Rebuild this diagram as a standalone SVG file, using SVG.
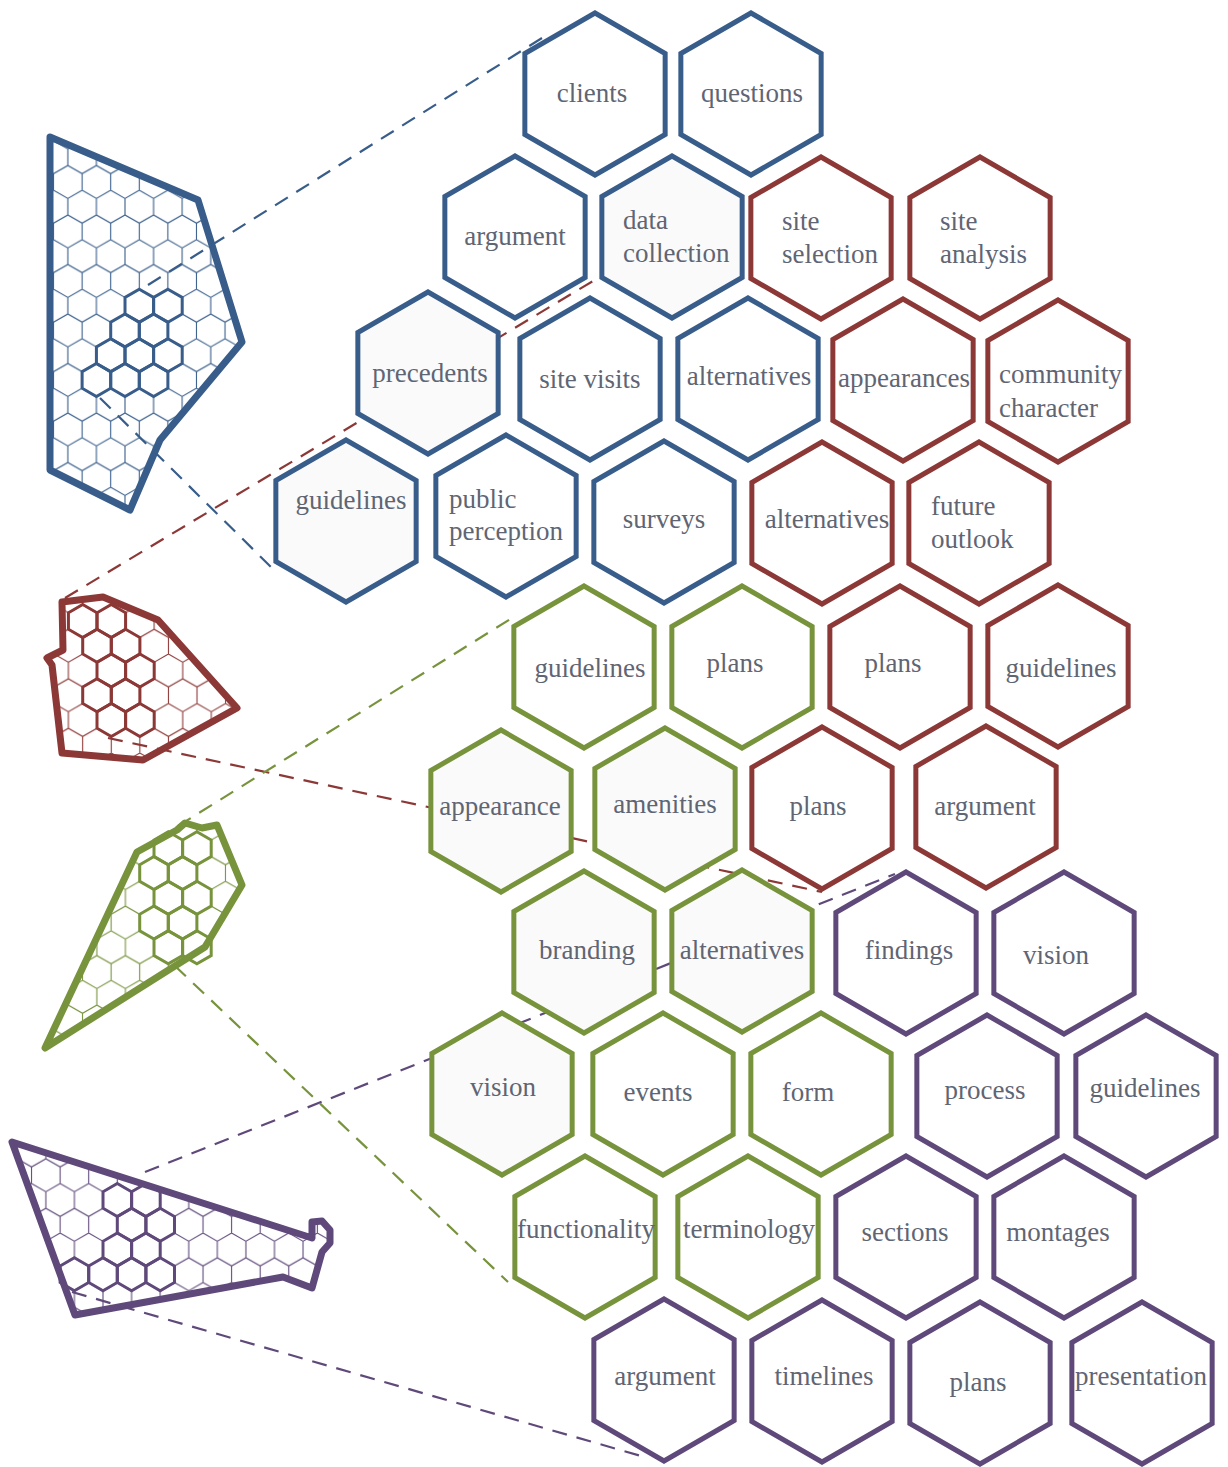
<svg xmlns="http://www.w3.org/2000/svg" xmlns:xlink="http://www.w3.org/1999/xlink" width="1228" height="1467" viewBox="0 0 1228 1467">
<style>
.hx{stroke-width:5;stroke-linejoin:miter;fill:#fff}
.fg{fill:#fafafa}
.b{stroke:#385d8a}.r{stroke:#8c3836}.g{stroke:#77933c}.p{stroke:#5f497a}
text{font-family:"Liberation Serif",serif;font-size:27px;fill:#5f6573}
.c{text-anchor:middle}
.dash{fill:none;stroke-width:2.2;stroke-dasharray:15 10}
.out{fill:none;stroke-width:7;stroke-linejoin:round}
.mh{fill:none;stroke-width:3}
.grid{fill:none;stroke-width:1.1}
</style>
<defs>
<path id="hex" d="M0,-81L70.15,-40.5L70.15,40.5L0,81L-70.15,40.5L-70.15,-40.5Z"/>
<path id="mh" d="M0,-16.5L14.29,-8.25L14.29,8.25L0,16.5L-14.29,8.25L-14.29,-8.25Z"/>
<pattern id="pb" patternUnits="userSpaceOnUse" x="125" y="289.2" width="28.58" height="49.5"><path class="grid b" d="M0,8.25L14.29,0L28.58,8.25M0,8.25V24.75L14.29,33L28.58,24.75V8.25M14.29,33V49.5"/></pattern>
<pattern id="pr" patternUnits="userSpaceOnUse" x="68.4" y="604.5" width="28.58" height="49.5"><path class="grid r" d="M0,8.25L14.29,0L28.58,8.25M0,8.25V24.75L14.29,33L28.58,24.75V8.25M14.29,33V49.5"/></pattern>
<pattern id="pg" patternUnits="userSpaceOnUse" x="154" y="831.8" width="28.58" height="49.5"><path class="grid g" d="M0,8.25L14.29,0L28.58,8.25M0,8.25V24.75L14.29,33L28.58,24.75V8.25M14.29,33V49.5"/></pattern>
<pattern id="pp" patternUnits="userSpaceOnUse" x="103" y="1183.5" width="28.58" height="49.5"><path class="grid p" d="M0,8.25L14.29,0L28.58,8.25M0,8.25V24.75L14.29,33L28.58,24.75V8.25M14.29,33V49.5"/></pattern>
<clipPath id="cb"><polygon points="50,137 198,200 242,342 160,440 130,510 50,470"/></clipPath>
<clipPath id="cr"><polygon points="62,602 103,597 158,620 237,708 143,760 62,753 52,665 47,658 63,650"/></clipPath>
<clipPath id="cg"><polygon points="45,1048 137,852 177,830 185,823 202,828 217,825 242,885 205,947"/></clipPath>
<clipPath id="cp"><polygon points="12,1142 312,1238 312,1222 322,1221 330,1230 330,1243 322,1252 312,1288 283,1277 75,1315"/></clipPath>
</defs>
<rect width="1228" height="1467" fill="#fff"/>

<g id="map-blue">
<rect x="40" y="130" width="210" height="390" fill="url(#pb)" clip-path="url(#cb)"/>
<use xlink:href="#mh" x="139.3" y="305.7" class="mh b"/><use xlink:href="#mh" x="167.9" y="305.7" class="mh b"/>
<use xlink:href="#mh" x="125" y="330.45" class="mh b"/><use xlink:href="#mh" x="153.6" y="330.45" class="mh b"/>
<use xlink:href="#mh" x="110.7" y="355.2" class="mh b"/><use xlink:href="#mh" x="139.3" y="355.2" class="mh b"/><use xlink:href="#mh" x="167.9" y="355.2" class="mh b"/>
<use xlink:href="#mh" x="96.4" y="379.95" class="mh b"/><use xlink:href="#mh" x="125" y="379.95" class="mh b"/><use xlink:href="#mh" x="153.6" y="379.95" class="mh b"/>
<polygon class="out b" points="50,137 198,200 242,342 160,440 130,510 50,470"/>
</g>

<g id="map-red">
<rect x="40" y="590" width="205" height="175" fill="url(#pr)" clip-path="url(#cr)"/>
<use xlink:href="#mh" x="82.7" y="621" class="mh r"/><use xlink:href="#mh" x="111.3" y="621" class="mh r"/>
<use xlink:href="#mh" x="97" y="645.75" class="mh r"/><use xlink:href="#mh" x="125.6" y="645.75" class="mh r"/>
<use xlink:href="#mh" x="111.3" y="670.5" class="mh r"/><use xlink:href="#mh" x="139.9" y="670.5" class="mh r"/>
<use xlink:href="#mh" x="97" y="695.25" class="mh r"/><use xlink:href="#mh" x="125.6" y="695.25" class="mh r"/>
<use xlink:href="#mh" x="111.3" y="720" class="mh r"/><use xlink:href="#mh" x="139.9" y="720" class="mh r"/>
<polygon class="out r" points="62,602 103,597 158,620 237,708 143,760 62,753 52,665 47,658 63,650"/>
</g>

<g id="map-green">
<rect x="40" y="815" width="210" height="240" fill="url(#pg)" clip-path="url(#cg)"/>
<use xlink:href="#mh" x="168.3" y="848.3" class="mh g"/><use xlink:href="#mh" x="196.9" y="848.3" class="mh g"/>
<use xlink:href="#mh" x="154" y="873.05" class="mh g"/><use xlink:href="#mh" x="182.6" y="873.05" class="mh g"/>
<use xlink:href="#mh" x="168.3" y="897.8" class="mh g"/><use xlink:href="#mh" x="196.9" y="897.8" class="mh g"/>
<use xlink:href="#mh" x="154" y="922.55" class="mh g"/><use xlink:href="#mh" x="182.6" y="922.55" class="mh g"/>
<use xlink:href="#mh" x="168.3" y="947.3" class="mh g"/><use xlink:href="#mh" x="196.9" y="947.3" class="mh g"/>
<polygon class="out g" points="45,1048 137,852 177,830 185,823 202,828 217,825 242,885 205,947"/>
</g>

<g id="map-purple">
<rect x="5" y="1135" width="330" height="190" fill="url(#pp)" clip-path="url(#cp)"/>
<use xlink:href="#mh" x="117.3" y="1200" class="mh p"/><use xlink:href="#mh" x="145.9" y="1200" class="mh p"/>
<use xlink:href="#mh" x="131.6" y="1224.75" class="mh p"/><use xlink:href="#mh" x="160.2" y="1224.75" class="mh p"/>
<use xlink:href="#mh" x="117.3" y="1249.5" class="mh p"/><use xlink:href="#mh" x="145.9" y="1249.5" class="mh p"/>
<use xlink:href="#mh" x="74.4" y="1274.25" class="mh p"/><use xlink:href="#mh" x="103" y="1274.25" class="mh p"/><use xlink:href="#mh" x="131.6" y="1274.25" class="mh p"/><use xlink:href="#mh" x="160.2" y="1274.25" class="mh p"/>
<polygon class="out p" points="12,1142 312,1238 312,1222 322,1221 330,1230 330,1243 322,1252 312,1288 283,1277 75,1315"/>
</g>

<g id="connectors">
<line class="dash b" x1="148" y1="285" x2="550" y2="33"/>
<line class="dash b" x1="100" y1="398" x2="272" y2="568"/>
<line class="dash r" x1="65" y1="598" x2="598" y2="278"/>
<line class="dash r" x1="108" y1="738" x2="822" y2="892"/>
<line class="dash g" x1="178" y1="826" x2="512" y2="618"/>
<line class="dash g" x1="175" y1="966" x2="508" y2="1282"/>
<line class="dash p" x1="145" y1="1172" x2="895" y2="874"/>
<line class="dash p" x1="72" y1="1292" x2="648" y2="1458"/>
</g>

<g id="n01"><use xlink:href="#hex" x="595" y="94" class="hx b"/><text x="592" y="102" class="c">clients</text></g>
<g id="n02"><use xlink:href="#hex" x="751" y="94" class="hx b"/><text x="752" y="102" class="c">questions</text></g>
<g id="n03"><use xlink:href="#hex" x="515" y="237" class="hx b"/><text x="515" y="245" class="c">argument</text></g>
<g id="n04"><use xlink:href="#hex" x="672" y="237" class="hx b fg"/><text x="623" y="229">data</text><text x="623" y="262">collection</text></g>
<g id="n05"><use xlink:href="#hex" x="428" y="373" class="hx b fg"/><text x="430" y="382" class="c">precedents</text></g>
<g id="n06"><use xlink:href="#hex" x="590" y="379" class="hx b"/><text x="590" y="388" class="c">site visits</text></g>
<g id="n07"><use xlink:href="#hex" x="748" y="379" class="hx b"/><text x="749" y="385" class="c">alternatives</text></g>
<g id="n08"><use xlink:href="#hex" x="346" y="521" class="hx b fg"/><text x="351" y="509" class="c">guidelines</text></g>
<g id="n09"><use xlink:href="#hex" x="506" y="516" class="hx b"/><text x="449" y="508">public</text><text x="449" y="540">perception</text></g>
<g id="n10"><use xlink:href="#hex" x="664" y="522" class="hx b"/><text x="664" y="528" class="c">surveys</text></g>

<g id="n11"><use xlink:href="#hex" x="821" y="238" class="hx r"/><text x="782" y="230">site</text><text x="782" y="263">selection</text></g>
<g id="n12"><use xlink:href="#hex" x="980" y="238" class="hx r"/><text x="940" y="230">site</text><text x="940" y="263">analysis</text></g>
<g id="n13"><use xlink:href="#hex" x="903" y="380" class="hx r"/><text x="904" y="387" class="c">appearances</text></g>
<g id="n14"><use xlink:href="#hex" x="1058" y="381" class="hx r"/><text x="999" y="383">community</text><text x="999" y="417">character</text></g>
<g id="n15"><use xlink:href="#hex" x="822" y="523" class="hx r"/><text x="827" y="528" class="c">alternatives</text></g>
<g id="n16"><use xlink:href="#hex" x="979" y="523" class="hx r"/><text x="931" y="515">future</text><text x="931" y="548">outlook</text></g>
<g id="n17"><use xlink:href="#hex" x="900" y="667" class="hx r"/><text x="893" y="672" class="c">plans</text></g>
<g id="n18"><use xlink:href="#hex" x="1058" y="666" class="hx r"/><text x="1061" y="677" class="c">guidelines</text></g>
<g id="n19"><use xlink:href="#hex" x="822" y="808" class="hx r"/><text x="818" y="815" class="c">plans</text></g>
<g id="n20"><use xlink:href="#hex" x="986" y="807" class="hx r"/><text x="985" y="815" class="c">argument</text></g>

<g id="n21"><use xlink:href="#hex" x="584" y="667" class="hx g"/><text x="590" y="677" class="c">guidelines</text></g>
<g id="n22"><use xlink:href="#hex" x="742" y="667" class="hx g"/><text x="735" y="672" class="c">plans</text></g>
<g id="n23"><use xlink:href="#hex" x="501" y="811" class="hx g fg"/><text x="500" y="815" class="c">appearance</text></g>
<g id="n24"><use xlink:href="#hex" x="665" y="809" class="hx g fg"/><text x="665" y="813" class="c">amenities</text></g>
<g id="n25"><use xlink:href="#hex" x="584" y="952" class="hx g fg"/><text x="587" y="959" class="c">branding</text></g>
<g id="n26"><use xlink:href="#hex" x="742" y="951" class="hx g fg"/><text x="742" y="959" class="c">alternatives</text></g>
<g id="n27"><use xlink:href="#hex" x="502" y="1094" class="hx g fg"/><text x="503" y="1096" class="c">vision</text></g>
<g id="n28"><use xlink:href="#hex" x="663" y="1094" class="hx g"/><text x="658" y="1101" class="c">events</text></g>
<g id="n29"><use xlink:href="#hex" x="821" y="1094" class="hx g"/><text x="808" y="1101" class="c">form</text></g>
<g id="n30"><use xlink:href="#hex" x="585" y="1237" class="hx g"/><text x="586" y="1238" class="c">functionality</text></g>
<g id="n31"><use xlink:href="#hex" x="748" y="1237" class="hx g"/><text x="749" y="1238" class="c">terminology</text></g>

<g id="n32"><use xlink:href="#hex" x="906" y="953" class="hx p"/><text x="909" y="959" class="c">findings</text></g>
<g id="n33"><use xlink:href="#hex" x="1064" y="953" class="hx p"/><text x="1056" y="964" class="c">vision</text></g>
<g id="n34"><use xlink:href="#hex" x="987" y="1096" class="hx p"/><text x="985" y="1099" class="c">process</text></g>
<g id="n35"><use xlink:href="#hex" x="1146" y="1096" class="hx p"/><text x="1145" y="1097" class="c">guidelines</text></g>
<g id="n36"><use xlink:href="#hex" x="906" y="1237" class="hx p"/><text x="905" y="1241" class="c">sections</text></g>
<g id="n37"><use xlink:href="#hex" x="1064" y="1237" class="hx p"/><text x="1058" y="1241" class="c">montages</text></g>
<g id="n38"><use xlink:href="#hex" x="664" y="1380" class="hx p"/><text x="665" y="1385" class="c">argument</text></g>
<g id="n39"><use xlink:href="#hex" x="822" y="1381" class="hx p"/><text x="824" y="1385" class="c">timelines</text></g>
<g id="n40"><use xlink:href="#hex" x="980" y="1383" class="hx p"/><text x="978" y="1391" class="c">plans</text></g>
<g id="n41"><use xlink:href="#hex" x="1142" y="1383" class="hx p"/><text x="1141" y="1385" class="c">presentation</text></g>
</svg>
